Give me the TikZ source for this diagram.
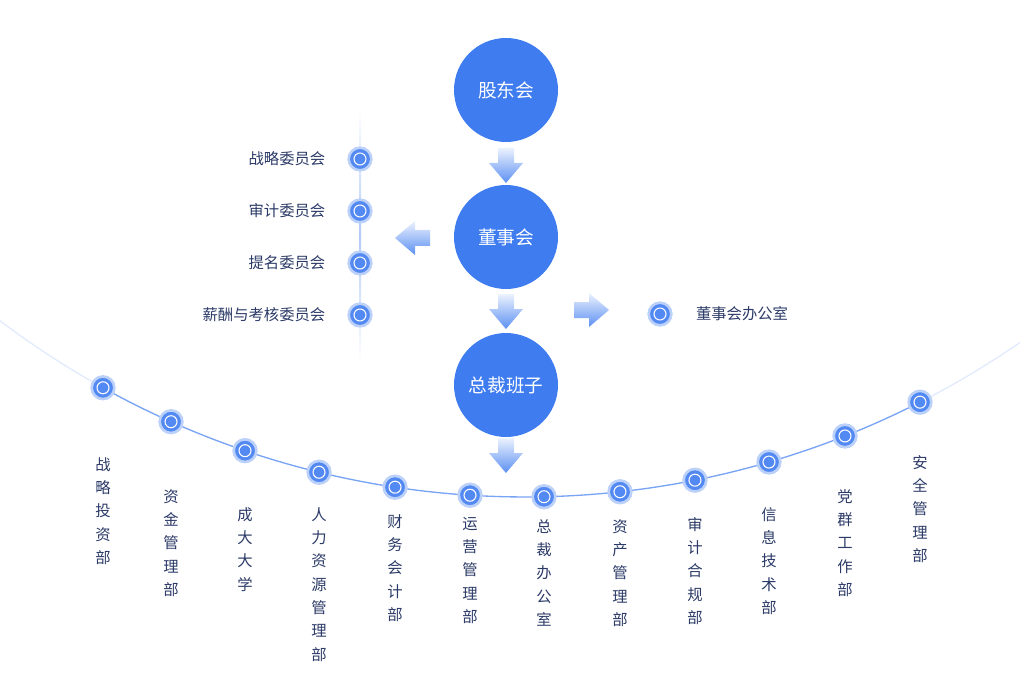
\documentclass[tikz,border=0pt]{standalone}
\usepackage{fontspec}
\setmainfont{Noto Sans CJK SC}
\usetikzlibrary{positioning, calc}
\definecolor{mainblue}{HTML}{3F7CF0}
\definecolor{navy}{HTML}{2B3A67}

\begin{document}
\begin{tikzpicture}[x=0.75pt, y=-0.75pt,
    bigcircle/.style={circle, fill=mainblue, minimum size=78pt, text=white, font=\fontsize{14}{16}\selectfont},
    dot/.style={circle, fill=mainblue!90, draw=mainblue!35, line width=2pt, minimum size=17pt, inner sep=0pt,
        path picture={\draw[white, line width=0.8pt] (path picture bounding box.center) circle (4.5pt);}},
    lbl/.style={font=\fontsize{11.5}{13}\selectfont, text=navy},
    vlbl/.style={font=\fontsize{11.5}{17.5}\selectfont, text=navy, align=center, anchor=north, inner sep=0pt},
    pics/blockarrow/.style={code={
        \shade[top color=mainblue!10, bottom color=mainblue!85, shading angle=#1]
          (-8,-18) -- (8,-18) -- (8,-3) -- (17,-3) -- (0,17) -- (-17,-3) -- (-8,-3) -- cycle;}}
]
\useasboundingbox (0,0) rectangle (1020,677);

% main chain
\node[bigcircle] (gdh) at (506,90) {股东会};
\node[bigcircle] (dsh) at (506,237) {董事会};
\node[bigcircle] (zcbz) at (506,385) {总裁班子};

\pic at (506,166) {blockarrow=0};
\pic at (506,312) {blockarrow=0};
\pic at (506,456) {blockarrow=0};
\pic[rotate=-90] at (412,238) {blockarrow=0};
\pic[rotate=90] at (592,310) {blockarrow=0};

% committees
\shade[top color=white, bottom color=white, middle color=mainblue!40] (359,108) rectangle (361,362);
\foreach \name/\txt [count=\i] in {zl/战略委员会, sj/审计委员会, tm/提名委员会, xc/薪酬与考核委员会} {
    \node[dot] (c\name) at (360,107+52*\i) {};
    \node[lbl, left=13pt of c\name] {\txt};
}

% board office
\node[dot] (bgs) at (660,314) {};
\node[lbl, right=14pt of bgs] {董事会办公室};

% departments arc
\coordinate (ctr) at (525,-373);
\draw[mainblue!15, line width=1pt] ($(ctr)+(128:870)$) arc[start angle=128, end angle=119.0, radius=870];
\draw[mainblue!15, line width=1pt] ($(ctr)+(54:870)$) arc[start angle=54, end angle=62.9, radius=870];
\draw[mainblue!70, line width=1pt] ($(ctr)+(119.0:870)$) arc[start angle=119.0, end angle=62.9, radius=870];
\foreach \dx/\ty/\txt [count=\i] in {
    -422/457/战\\略\\投\\资\\部,
    -354/489/资\\金\\管\\理\\部,
    -280/507/成\\大\\大\\学,
    -206/507/人\\力\\资\\源\\管\\理\\部,
    -130/514/财\\务\\会\\计\\部,
    -55/517/运\\营\\管\\理\\部,
    19/519/总\\裁\\办\\公\\室,
    95/519/资\\产\\管\\理\\部,
    170/517/审\\计\\合\\规\\部,
    244/507/信\\息\\技\\术\\部,
    320/489/党\\群\\工\\作\\部,
    395/455/安\\全\\管\\理\\部} {
    \pgfmathsetmacro{\ang}{acos(\dx/870)}
    \node[dot] (d\i) at ($(ctr)+(\ang:870)$) {};
    \node[vlbl] (t\i) at (525+\dx,\ty) {\txt};
}
\end{tikzpicture}
\end{document}
